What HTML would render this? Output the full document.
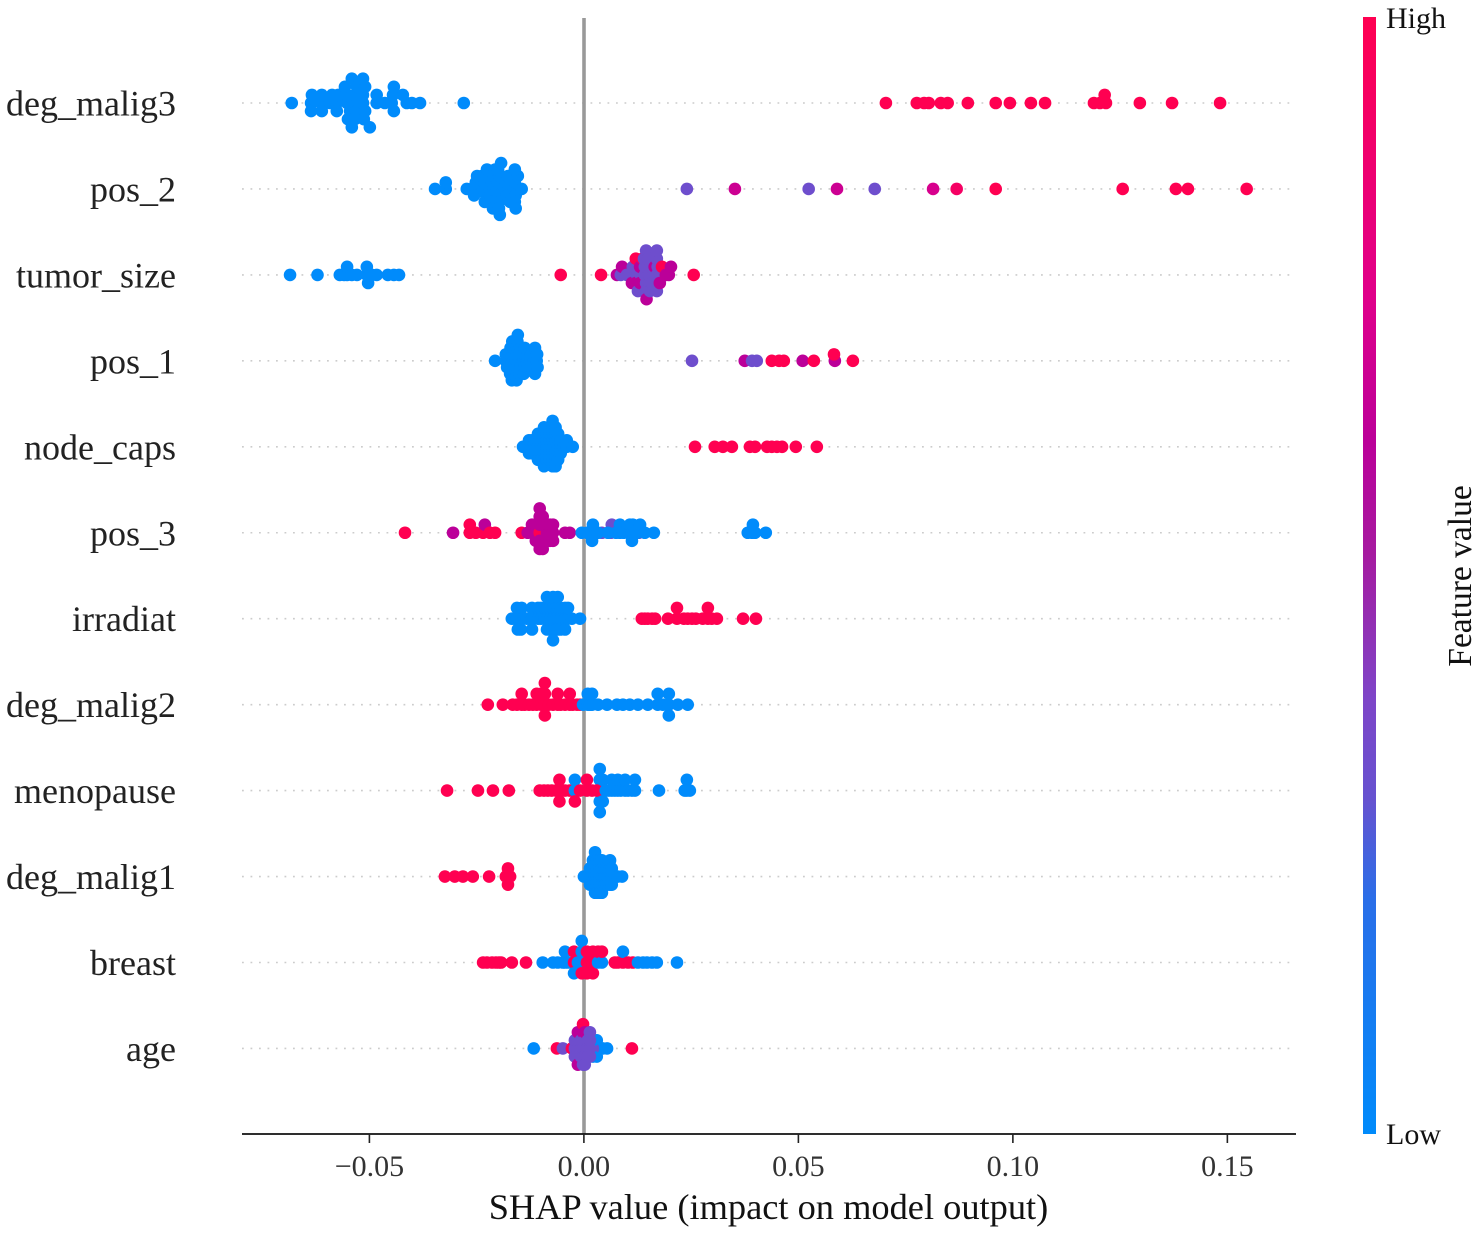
<!DOCTYPE html>
<html lang="en">
<head>
<meta charset="utf-8">
<title>SHAP summary plot</title>
<style>
  html, body { margin: 0; padding: 0; background: #fff; }
  #chart { display: block; width: 1477px; height: 1233px; filter: blur(0.35px); }
  text { font-family: "Liberation Serif", "Times New Roman", serif; }
</style>
</head>
<body>
<svg id="chart" xmlns="http://www.w3.org/2000/svg" width="1477" height="1233" viewBox="0 0 1477 1233">
  <defs>
    <linearGradient id="colorbar-gradient" x1="0" y1="1" x2="0" y2="0"></linearGradient>
  </defs>
  <rect x="0" y="0" width="1477" height="1233" fill="#ffffff"></rect>
  <g id="row-guides"></g>
  <line x1="584" y1="18" x2="584" y2="1134" stroke="#999999" stroke-width="3.6"></line>
  <g id="points"></g>
  <g id="y-labels"></g>
  <line x1="242" y1="1134" x2="1296" y2="1134" stroke="#111111" stroke-width="1.8"></line>
  <g id="x-ticks"></g>
  <text x="768.5" y="1219" text-anchor="middle" font-size="36.4" fill="#111111">SHAP value (impact on model output)</text>
  <rect x="1363" y="17" width="13" height="1117" fill="url(#colorbar-gradient)"></rect>
  <text x="1386" y="28" font-size="30" fill="#111111">High</text>
  <text x="1386" y="1144" font-size="30" fill="#111111">Low</text>
  <text transform="translate(1471 576) rotate(-90)" text-anchor="middle" font-size="33.5" fill="#111111">Feature value</text>
</svg>
<script>
const featureNames = ["deg_malig3", "pos_2", "tumor_size", "pos_1", "node_caps", "pos_3", "irradiat", "deg_malig2", "menopause", "deg_malig1", "breast", "age"];
const xTickValues = [-0.05, 0, 0.05, 0.10, 0.15];
const xTickLabels = ["\u22120.05", "0.00", "0.05", "0.10", "0.15"];

const degMalig3Shap = [
  -.0681,
  -.0636,-.0634,-.0636,
  -.0613,-.0611,-.0611,
  -.0592,-.0587,
  -.0576,-.0573,-.0576,
  -.0552,-.0552,-.0545,-.0557,-.0550,-.0541,-.0541,
  -.0534,-.0534,-.0529,-.0529,-.0534,
  -.0515,-.0515,-.0510,-.0510,-.0513,-.0515,-.0499,
  -.0483,-.0483,
  -.0464,
  -.0448,-.0445,-.0443,-.0443,
  -.0413,-.0422,
  -.0401,
  -.0382,
  -.0280,
  .0704,.0776,.0793,.0804,.0832,.0848,.0895,.0960,.0993,.1042,.1075,.1189,.1203,.1217,.1214,.1296,.1371,.1483
];
const degMalig3Feature = [
  0,
  0,0,0,
  0,0,0,
  0,0,
  0,0,0,
  0,0,0,0,0,0,0,
  0,0,0,0,0,
  0,0,0,0,0,0,0,
  0,0,
  0,
  0,0,0,0,
  0,0,
  0,
  0,
  0,
  1,1,1,1,1,1,1,1,1,1,1,1,1,1,1,1,1,1
];

const pos2Shap = [
  -.0347,
  -.0322,-.0322,
  -.0273,
  -.0261,-.0252,-.0256,-.0249,
  -.0235,-.0233,-.0228,-.0238,-.0231,-.0226,
  -.0219,-.0214,-.0219,-.0210,-.0214,-.0207,-.0212,
  -.0203,-.0200,-.0198,-.0196,-.0198,-.0200,-.0198,-.0193,-.0196,
  -.0184,-.0182,-.0179,-.0177,-.0172,
  -.0163,-.0161,-.0159,-.0154,-.0161,-.0161,-.0159,
  -.0145,
  .0240,.0352,.0524,.0590,.0678,.0814,.0869,.0960,.1256,.1380,.1408,.1545
];
const pos2Feature = [
  0,
  0,0,
  0,
  0,0,0,0,
  0,0,0,0,0,0,
  0,0,0,0,0,0,0,
  0,0,0,0,0,0,0,0,0,
  0,0,0,0,0,
  0,0,0,0,0,0,0,
  0,
  .33,.68,.33,.68,.33,.72,.92,1,1,1,1,1
];

const tumorSizeShap = [
  -.0685,-.0621,-.0569,-.0559,-.0552,-.0552,-.0541,-.0529,
  -.0506,-.0506,-.0503,
  -.0494,-.0483,-.0457,-.0443,-.0431,
  -.0054,.0040,
  .0077,
  .0086,.0089,
  .0100,
  .0114,.0114,.0112,
  .0124,.0124,.0121,.0121,.0126,
  .0133,.0131,.0131,.0137,
  .0142,.0142,.0145,.0140,.0145,.0145,.0146,
  .0152,.0154,.0154,.0149,.0154,
  .0161,.0165,.0159,
  .0170,.0172,.0170,.0170,.0170,.0170,
  .0179,.0182,.0177,
  .0191,
  .0198,.0203,
  .0256
];
const tumorSizeFeature = [
  0,0,0,0,0,0,0,0,
  0,0,0,
  0,0,0,0,0,
  1,1,
  .62,
  .33,.62,
  .33,
  .33,.33,.62,
  .33,.33,.62,1,.33,
  .33,.62,.62,1,
  .33,.33,.33,.33,.33,.33,.62,
  .33,.33,.33,.33,.33,
  .33,.62,.33,
  .33,.33,.33,.33,.33,.33,
  .33,1,.62,
  .62,
  .62,.62,
  1
];

const pos1Shap = [
  -.0207,
  -.0182,-.0182,-.0179,
  -.0175,-.0172,-.0177,-.0171,-.0172,
  -.0166,-.0166,-.0166,-.0165,-.0164,-.0167,-.0168,
  -.0158,-.0157,-.0156,-.0155,-.0156,-.0155,-.0157,-.0154,
  -.0150,-.0149,-.0148,-.0147,-.0150,
  -.0141,-.0140,-.0139,-.0138,-.0140,
  -.0132,-.0132,-.0132,
  -.0124,-.0123,-.0122,
  -.0116,-.0115,-.0115,-.0114,-.0114,
  -.0110,-.0109,-.0108,
  .0252,.0375,.0392,.0403,.0438,.0455,.0466,.0510,.0536,.0585,.0583,.0627
];
const pos1Feature = [
  0,
  0,0,0,
  0,0,0,0,0,
  0,0,0,0,0,0,0,
  0,0,0,0,0,0,0,0,
  0,0,0,0,0,
  0,0,0,0,0,
  0,0,0,
  0,0,0,
  0,0,0,0,0,
  0,0,0,
  .33,.62,.33,.33,1,1,1,.62,1,.62,1,1
];

const nodeCapsShap = [
  -.0142,
  -.0135,
  -.0128,-.0128,-.0128,
  -.0121,-.0121,-.0121,
  -.0114,-.0114,-.0114,
  -.0107,-.0107,-.0107,-.0107,-.0107,
  -.0100,-.0100,-.0100,-.0100,-.0100,
  -.0093,-.0093,-.0093,-.0093,-.0093,-.0093,-.0093,
  -.0087,-.0087,-.0087,-.0087,-.0087,
  -.0080,-.0080,-.0080,-.0080,-.0080,
  -.0073,-.0073,-.0073,-.0073,-.0073,-.0073,-.0073,-.0073,
  -.0066,-.0066,-.0066,-.0066,-.0066,-.0066,-.0066,
  -.0060,-.0060,-.0060,-.0060,-.0060,
  -.0054,-.0054,-.0054,
  -.0047,
  -.0040,-.0040,
  -.0026,
  .0259,.0305,.0324,.0345,.0387,.0399,.0427,.0438,.0450,.0462,.0494,.0543
];
const nodeCapsFeature = [
  0,
  0,
  0,0,0,
  0,0,0,
  0,0,0,
  0,0,0,0,0,
  0,0,0,0,0,
  0,0,0,0,0,0,0,
  0,0,0,0,0,
  0,0,0,0,0,
  0,0,0,0,0,0,0,0,
  0,0,0,0,0,0,0,
  0,0,0,0,0,
  0,0,0,
  0,
  0,0,
  0,
  1,1,1,1,1,1,1,1,1,1,1,1
];

const pos3Shap = [
  -.0417,-.0305,-.0266,-.0266,-.0252,
  -.0235,-.0231,
  -.0219,-.0207,-.0145,
  -.0131,
  -.0121,-.0121,
  -.0112,-.0112,-.0112,
  -.0096,-.0096,-.0096,-.0096,-.0096,
  -.0103,-.0103,-.0103,-.0103,-.0103,-.0103,
  -.0086,-.0086,-.0086,
  -.0079,-.0079,-.0079,
  -.0072,-.0072,-.0072,
  -.0044,-.0033,
  .0042,.0063,.0065,.0128,
  -.0005,.0007,
  .0021,.0021,.0019,
  .0033,.0056,.0075,
  .0084,.0084,
  .0093,
  .0107,.0107,
  .0112,.0114,.0112,
  .0124,
  .0131,
  .0142,.0163,
  .0382,.0392,.0394,.0399,.0424
];
const pos3Feature = [
  1,.62,1,1,1,
  1,.62,
  1,1,1,
  .62,
  .62,.62,
  .62,.62,.62,
  .62,.62,.62,.62,.62,
  1,.62,.62,.62,.62,.62,
  .62,.62,.62,
  .62,.62,.62,
  .62,.62,.62,
  .62,.62,
  .33,.33,.33,.33,
  0,0,
  0,0,0,
  0,0,0,
  0,0,
  0,
  0,0,
  0,0,0,
  0,
  0,
  0,0,
  0,0,0,0,0
];

const irradiatShap = [
  -.0168,-.0161,
  -.0156,-.0156,-.0154,
  -.0145,-.0145,-.0147,
  -.0133,
  -.0121,-.0121,-.0121,
  -.0107,-.0107,
  -.0100,-.0100,
  -.0092,-.0092,
  -.0086,-.0086,-.0086,-.0086,
  -.0079,-.0079,-.0079,
  -.0072,-.0072,-.0072,-.0072,-.0072,
  -.0065,-.0065,-.0065,
  -.0061,-.0061,-.0061,-.0061,
  -.0054,-.0054,-.0054,
  -.0044,-.0044,-.0044,
  -.0037,-.0037,
  -.0028,-.0009,
  .0135,.0142,.0149,.0159,.0166,.0196,.0217,.0217,.0233,.0242,.0252,.0261,.0277,.0289,.0289,.0298,.0310,.0371,.0401
];
const irradiatFeature = [
  0,0,
  0,0,0,
  0,0,0,
  0,
  0,0,0,
  0,0,
  0,0,
  0,0,
  0,0,0,0,
  0,0,0,
  0,0,0,0,0,
  0,0,0,
  0,0,0,0,
  0,0,0,
  0,0,0,
  0,0,
  0,0,
  1,1,1,1,1,1,1,1,1,1,1,1,1,1,1,1,1,1,1
];

const degMalig2Shap = [
  -.0224,-.0189,-.0166,-.0156,
  -.0145,-.0145,
  -.0138,-.0128,-.0119,
  -.0110,-.0110,
  -.0100,-.0100,
  -.0091,-.0091,-.0091,-.0091,
  -.0082,-.0072,
  -.0061,-.0061,
  -.0054,-.0044,
  -.0033,-.0033,
  -.0026,-.0016,-.0009,
  -.0002,
  .0009,.0009,
  .0014,
  .0019,.0019,
  .0033,.0054,.0077,.0091,.0107,.0126,.0149,
  .0172,.0172,
  .0184,
  .0198,.0198,.0198,
  .0219,.0242
];
const degMalig2Feature = [
  1,1,1,1,
  1,1,
  1,1,1,
  1,1,
  1,1,
  1,1,1,1,
  1,1,
  1,1,
  1,1,
  1,1,
  1,1,1,
  0,
  0,0,
  0,
  0,0,
  0,0,0,0,0,0,0,
  0,0,
  0,
  0,0,0,
  0,0
];

const menopauseShap = [
  -.0319,-.0247,-.0212,-.0175,
  -.0103,-.0093,-.0084,-.0075,-.0065,
  -.0057,-.0057,-.0057,
  -.0044,-.0033,
  -.0021,-.0021,-.0021,
  .0037,.0037,.0037,.0037,.0037,
  -.0009,
  .0007,.0007,
  .0019,
  .0030,
  .0042,.0044,.0044,
  .0051,.0058,
  .0065,.0065,
  .0072,
  .0079,.0079,
  .0086,
  .0096,.0096,
  .0103,.0112,
  .0119,.0119,
  .0175,.0235,.0240,.0240,.0247
];
const menopauseFeature = [
  1,1,1,1,
  1,1,1,1,1,
  1,1,1,
  1,1,
  0,0,1,
  0,0,0,0,0,
  1,
  1,1,
  1,
  1,
  1,0,0,
  0,0,
  0,0,
  0,
  0,0,
  0,
  0,0,
  0,0,
  0,0,
  0,0,0,0,0
];

const degMalig1Shap = [
  -.0324,-.0301,-.0282,-.0259,-.0221,
  -.0182,
  -.0177,-.0177,-.0177,
  -.0172,
  .0000,.0007,
  .0014,.0014,.0014,
  .0021,.0021,.0021,.0021,
  .0026,.0026,.0026,.0026,.0026,.0026,
  .0030,.0030,.0030,.0030,.0030,
  .0037,.0037,.0037,.0037,.0037,
  .0042,.0042,.0042,.0042,.0042,
  .0049,.0049,.0049,
  .0054,.0054,.0054,
  .0061,.0061,.0061,.0061,
  .0065,.0065,.0065,
  .0072,.0079,.0089
];
const degMalig1Feature = [
  1,1,1,1,1,
  1,
  1,1,1,
  1,
  0,0,
  0,0,0,
  0,0,0,0,
  0,0,0,0,0,0,
  0,0,0,0,0,
  0,0,0,0,0,
  0,0,0,0,0,
  0,0,0,
  0,0,0,
  0,0,0,0,
  0,0,0,
  0,0,0
];

const breastShap = [
  -.0235,-.0226,-.0214,-.0205,-.0198,-.0193,-.0168,-.0135,
  -.0096,-.0072,-.0061,-.0049,
  -.0044,-.0044,
  -.0037,
  -.0023,-.0023,-.0023,
  -.0014,
  -.0005,-.0005,-.0005,-.0005,
  .0007,.0007,.0007,
  .0021,.0021,.0021,
  .0026,
  .0033,.0033,
  .0042,.0042,
  .0072,.0079,
  .0091,.0091,
  .0103,.0114,
  .0126,.0138,.0147,.0159,.0170,.0217
];
const breastFeature = [
  1,1,1,1,1,1,1,1,
  0,0,0,0,
  0,0,
  0,
  1,1,0,
  0,
  0,0,1,0,
  1,1,1,
  1,1,1,
  1,
  0,1,
  0,1,
  1,1,
  1,0,
  1,1,
  0,0,0,0,0,0
];

const ageShap = [
  -.0117,.0054,.0044,.0037,
  .0030,.0030,.0030,
  .0021,.0021,.0021,
  -.0063,-.0049,-.0028,
  -.0021,-.0021,-.0021,
  -.0014,-.0014,-.0014,-.0014,-.0014,
  -.0007,-.0007,-.0007,
  -.0002,-.0002,-.0002,-.0002,-.0002,-.0002,
  .0002,.0002,.0002,.0002,.0002,
  .0009,.0009,.0009,
  .0014,.0014,.0014,.0014,
  .0112
];
const ageFeature = [
  0,0,0,0,
  0,0,0,
  .33,0,0,
  1,.33,1,
  .33,.33,.33,
  .33,.33,.33,.62,.62,
  .33,.33,.33,
  .33,.33,.33,.62,.33,1,
  .33,.33,.33,.62,.33,
  .33,.33,.33,
  .33,.33,.33,.33,
  1
];

const shapRows = [degMalig3Shap, pos2Shap, tumorSizeShap, pos1Shap, nodeCapsShap, pos3Shap, irradiatShap, degMalig2Shap, menopauseShap, degMalig1Shap, breastShap, ageShap];
const featureRows = [degMalig3Feature, pos2Feature, tumorSizeFeature, pos1Feature, nodeCapsFeature, pos3Feature, irradiatFeature, degMalig2Feature, menopauseFeature, degMalig1Feature, breastFeature, ageFeature];

const SVG_NS = "http://www.w3.org/2000/svg";
const xDomain = [-0.0797, 0.166];
const xRange = [242, 1296];
const firstRowY = 103;
const rowSpacing = 85.95;
const swarmHeight = 36;
const swarmBins = 100;

function xScale(v) {
  return xRange[0] + (v - xDomain[0]) / (xDomain[1] - xDomain[0]) * (xRange[1] - xRange[0]);
}
function yScale(rowIndex) {
  return firstRowY + rowSpacing * rowIndex;
}

const colorStops = [
  [0, [0, 139, 251]],
  [0.21, [42, 110, 232]],
  [0.30, [102, 82, 208]],
  [0.39, [126, 69, 200]],
  [0.52, [166, 26, 160]],
  [0.62, [187, 0, 153]],
  [0.75, [224, 0, 138]],
  [1, [255, 0, 81]]
];
function colorAt(t) {
  for (let i = 1; i < colorStops.length; i++) {
    if (t <= colorStops[i][0]) {
      const a = colorStops[i - 1], b = colorStops[i];
      const f = (t - a[0]) / (b[0] - a[0]);
      return "rgb(" + a[1].map((c, k) => Math.round(c + (b[1][k] - c) * f)).join(",") + ")";
    }
  }
  return "rgb(255,0,81)";
}

function swarmLanes(values) {
  const lo = Math.min.apply(null, values);
  const hi = Math.max.apply(null, values);
  const quant = values.map(v => Math.round(swarmBins * (v - lo) / (hi - lo + 1e-8)));
  const order = values.map((v, i) => i).sort((a, b) => quant[a] - quant[b] || a - b);
  const lanes = new Array(values.length).fill(0);
  let layer = 0, lastBin = -1;
  order.forEach(i => {
    if (quant[i] !== lastBin) layer = 0;
    lanes[i] = Math.ceil(layer / 2) * ((layer % 2) * 2 - 1);
    layer += 1;
    lastBin = quant[i];
  });
  return lanes;
}

function make(tag, attrs) {
  const el = document.createElementNS(SVG_NS, tag);
  Object.keys(attrs).forEach(k => el.setAttribute(k, attrs[k]));
  return el;
}

const gradient = document.getElementById("colorbar-gradient");
colorStops.forEach(s => {
  gradient.appendChild(make("stop", { offset: s[0], "stop-color": "rgb(" + s[1].join(",") + ")" }));
});

const guides = document.getElementById("row-guides");
const pointsLayer = document.getElementById("points");
const yLabels = document.getElementById("y-labels");
const xTicksLayer = document.getElementById("x-ticks");

featureNames.forEach((name, rowIndex) => {
  const y = yScale(rowIndex);

  const guide = make("line", { x1: xRange[0], x2: xRange[1], y1: y, y2: y, stroke: "#cccccc", "stroke-width": 1.6, "stroke-dasharray": "1.8 6.7" });
  
  
  guides.appendChild(guide);

  const label = make("text", { x: 176, y: y + 12.5, "text-anchor": "end", "font-size": 36, fill: "#222222" });
  
  
  label.textContent = name;
  yLabels.appendChild(label);

  const shaps = shapRows[rowIndex];
  const feats = featureRows[rowIndex];
  const lanes = swarmLanes(shaps);
  const maxLane = Math.max.apply(null, lanes);
  const laneStep = 0.9 * swarmHeight / (maxLane + 1);
  const group = make("g", {});
  
  
  shaps.forEach((v, i) => {
    const dot = make("circle", { cx: xScale(v).toFixed(2), cy: (y - lanes[i] * laneStep).toFixed(2), r: 6.3, fill: colorAt(feats[i]) });
    
    
    group.appendChild(dot);
  });
  pointsLayer.appendChild(group);
});

xTickValues.forEach((v, i) => {
  const x = xScale(v);
  const tick = make("line", { x1: x, x2: x, y1: 1134, y2: 1143, stroke: "#222222", "stroke-width": 1.6 });
  
  
  xTicksLayer.appendChild(tick);
  const label = make("text", { x: x, y: 1176, "text-anchor": "middle", "font-size": 30, fill: "#333333" });
  
  
  label.textContent = xTickLabels[i];
  xTicksLayer.appendChild(label);
});
</script>
</body>
</html>
